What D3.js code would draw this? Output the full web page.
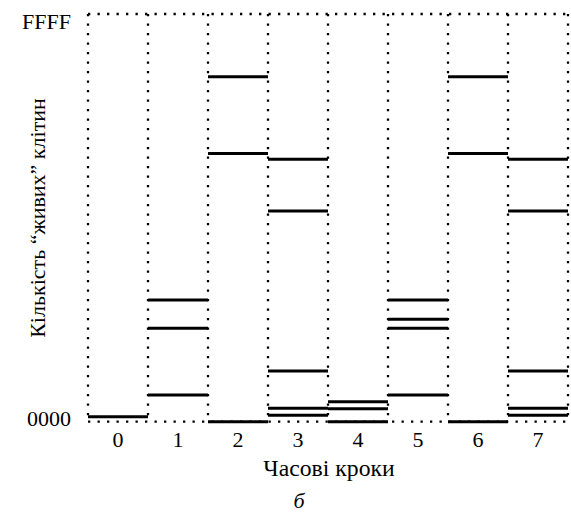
<!DOCTYPE html>
<html>
<head>
<meta charset="utf-8">
<script src="https://cdn.jsdelivr.net/npm/d3@7"></script>
<style>
  html, body { margin: 0; padding: 0; background: #fff; }
  svg { display: block; }
  text { font-family: "Liberation Serif", "DejaVu Serif", serif; fill: #000; }
</style>
</head>
<body>
<svg id="chart" width="571" height="514"></svg>
<script>
// ---- data ----
const steps = ["0", "1", "2", "3", "4", "5", "6", "7"];
// live-cell counts (hex 0000..FFFF) observed at each time step
const counts = [
  [800],
  [19560, 15010, 4290],
  [55450, 43130, 0],
  [42170, 33860, 8150, 2150, 1030],
  [3210, 2090, 0],
  [19560, 16460, 15010, 4290],
  [55450, 43130, 0],
  [42170, 33860, 8150, 2150, 1030]
];
const yTickValues = [0, 65535];
const yTickLabels = ["0000", "FFFF"];
const xTitle = "Часові кроки";
const yTitle = "Кількість “живих” клітин";
const caption = "б";

// ---- layout ----
const svg = d3.select("#chart");
const mLeft = 88, mRight = 568, mTop = 14, mBottom = 421.7;
const serif = '"Liberation Serif", serif';

const x = d3.scaleBand().domain(steps).range([mLeft, mRight]).paddingInner(0).paddingOuter(0);
const y = d3.scaleLinear().domain([0, 65535]).range([mBottom, mTop]);

const dot = { stroke: "#000", width: 2.3, dash: "2.3 7.2" };

// vertical dotted boundaries
const bounds = steps.map(s => x(s)).concat([x(steps[steps.length - 1]) + x.bandwidth()]);
svg.append("g").selectAll("line").data(bounds).join("line")
  .attr("x1", d => d).attr("x2", d => d)
  .attr("y1", mTop).attr("y2", mBottom)
  .attr("stroke", dot.stroke).attr("stroke-width", dot.width)
  .attr("stroke-dasharray", dot.dash);

// horizontal dotted top & bottom
svg.append("g").selectAll("line").data([y(65535), y(0)]).join("line")
  .attr("x1", mLeft).attr("x2", mRight)
  .attr("y1", d => d).attr("y2", d => d)
  .attr("stroke", dot.stroke).attr("stroke-width", dot.width)
  .attr("stroke-dasharray", dot.dash);

// level bars
const flat = [];
counts.forEach((arr, i) => arr.forEach(v => flat.push({ step: steps[i], v })));
svg.append("g").selectAll("line").data(flat).join("line")
  .attr("x1", d => x(d.step)).attr("x2", d => x(d.step) + x.bandwidth())
  .attr("y1", d => y(d.v)).attr("y2", d => y(d.v))
  .attr("stroke", "#000").attr("stroke-width", 3);

// y tick labels
const yAxis = d3.axisLeft(y).tickValues(yTickValues)
  .tickFormat((d, i) => yTickLabels[i]).tickSize(0).tickPadding(17);
const gy = svg.append("g").attr("transform", `translate(${mLeft},0)`).call(yAxis);
gy.select(".domain").remove();
gy.selectAll("text")
  .style("font-family", serif)
  .style("font-size", "22px")
  .attr("fill", "#000")
  .attr("dy", (d, i) => i === 0 ? "3.3" : "14");

// x tick labels
const xAxis = d3.axisBottom(x).tickSize(0);
const gx = svg.append("g").attr("transform", `translate(0,${mBottom})`).call(xAxis);
gx.select(".domain").remove();
gx.selectAll("text")
  .style("font-family", serif)
  .style("font-size", "22px")
  .attr("fill", "#000")
  .attr("y", 25.5).attr("dy", 0);

// titles
svg.append("text")
  .attr("x", 329).attr("y", 476)
  .attr("text-anchor", "middle")
  .style("font-family", serif)
  .style("font-size", "23.7px")
  .text(xTitle);

svg.append("text")
  .attr("transform", `translate(44.5,218) rotate(-90)`)
  .attr("text-anchor", "middle")
  .style("font-family", serif)
  .style("font-size", "22px")
  .text(yTitle);

svg.append("text")
  .attr("x", 299).attr("y", 508)
  .attr("text-anchor", "middle")
  .style("font-family", serif)
  .style("font-size", "22px")
  .style("font-style", "italic")
  .text(caption);
</script>
</body>
</html>
